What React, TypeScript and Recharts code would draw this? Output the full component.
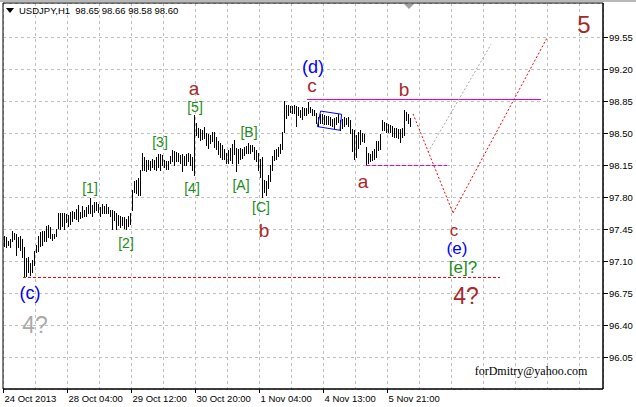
import React from "react";
import {
  ComposedChart,
  Bar,
  XAxis,
  YAxis,
  CartesianGrid,
  ReferenceLine,
  ReferenceDot,
  ReferenceArea,
} from "recharts";

// ---------- data (USDJPY, H1 bars: high / low) ----------
const highs = [
  97.37, 97.36, 97.32, 97.34, 97.43, 97.41, 97.39, 97.36, 97.37, 97.34,
  97.25, 97.13, 97.14, 97.08, 97.11, 97.21, 97.27, 97.37, 97.42, 97.43,
  97.43, 97.48, 97.49, 97.47, 97.4, 97.4, 97.45, 97.62, 97.63, 97.62,
  97.63, 97.61, 97.6, 97.64, 97.65, 97.64, 97.67, 97.71, 97.64, 97.7,
  97.66, 97.69, 97.71, 97.79, 97.71, 97.74, 97.74, 97.72, 97.69, 97.72,
  97.7, 97.72, 97.69, 97.66, 97.66, 97.65, 97.62, 97.6, 97.59, 97.58,
  97.58, 97.56, 97.59, 97.63, 97.88, 97.97, 97.99, 98.01, 98.1, 98.28,
  98.24, 98.2, 98.21, 98.19, 98.22, 98.21, 98.24, 98.27, 98.27, 98.26,
  98.21, 98.19, 98.19, 98.25, 98.31, 98.3, 98.29, 98.28, 98.26, 98.27,
  98.25, 98.27, 98.28, 98.27, 98.24, 98.7, 98.61, 98.55, 98.54, 98.53,
  98.57, 98.5, 98.49, 98.48, 98.51, 98.51, 98.46, 98.41, 98.39, 98.37,
  98.33, 98.28, 98.31, 98.34, 98.38, 98.42, 98.34, 98.33, 98.34, 98.33,
  98.35, 98.36, 98.39, 98.37, 98.37, 98.35, 98.31, 98.28, 98.22, 98.24,
  97.99, 97.98, 98.04, 98.15, 98.25, 98.31, 98.33, 98.35, 98.38, 98.51,
  98.85, 98.81, 98.81, 98.8, 98.79, 98.81, 98.79, 98.78, 98.75, 98.78,
  98.77, 98.77, 98.84, 98.78, 98.76, 98.75, 98.72, 98.67, 98.71, 98.71,
  98.7, 98.69, 98.69, 98.67, 98.65, 98.66, 98.68, 98.71, 98.64, 98.65,
  98.67, 98.66, 98.67, 98.64, 98.54, 98.53, 98.48, 98.51, 98.53, 98.5,
  98.49, 98.35, 98.28, 98.27, 98.3, 98.33, 98.41, 98.41, 98.49, 98.64,
  98.62, 98.61, 98.6, 98.59, 98.58, 98.55, 98.56, 98.54, 98.54, 98.56,
  98.75, 98.73, 98.71, 98.66,
];
const lows = [
  97.26, 97.25, 97.28, 97.25, 97.32, 97.34, 97.17, 97.25, 97.22, 97.14,
  96.92, 96.94, 96.98, 96.95, 96.98, 97.06, 97.2, 97.21, 97.26, 97.28,
  97.32, 97.32, 97.36, 97.35, 97.33, 97.35, 97.37, 97.46, 97.45, 97.48,
  97.45, 97.53, 97.48, 97.51, 97.54, 97.57, 97.56, 97.54, 97.57, 97.58,
  97.59, 97.59, 97.62, 97.62, 97.59, 97.64, 97.66, 97.64, 97.59, 97.62,
  97.63, 97.62, 97.63, 97.59, 97.45, 97.55, 97.45, 97.49, 97.47, 97.49,
  97.46, 97.45, 97.48, 97.5, 97.66, 97.86, 97.84, 97.82, 97.82, 98.1,
  98.09, 98.08, 98.11, 98.1, 98.13, 98.11, 98.1, 98.13, 98.1, 98.15,
  98.13, 98.11, 98.11, 98.17, 98.19, 98.15, 98.19, 98.19, 98.17, 98.08,
  98.15, 98.15, 98.19, 98.15, 98.1, 98.04, 98.48, 98.46, 98.42, 98.43,
  98.44, 98.37, 98.34, 98.39, 98.41, 98.35, 98.33, 98.27, 98.24, 98.22,
  98.22, 98.17, 98.17, 98.21, 98.17, 98.27, 98.08, 98.17, 98.22, 98.23,
  98.26, 98.28, 98.28, 98.28, 98.3, 98.22, 98.19, 98.1, 98.02, 97.8,
  97.86, 97.82, 97.9, 97.97, 98.1, 98.21, 98.22, 98.25, 98.28, 98.33,
  98.51, 98.66, 98.7, 98.73, 98.72, 98.72, 98.58, 98.7, 98.67, 98.65,
  98.7, 98.7, 98.72, 98.73, 98.7, 98.7, 98.61, 98.58, 98.61, 98.61,
  98.6, 98.6, 98.6, 98.59, 98.58, 98.56, 98.6, 98.62, 98.53, 98.55,
  98.58, 98.6, 98.58, 98.5, 98.3, 98.22, 98.24, 98.34, 98.38, 98.41,
  98.4, 98.15, 98.17, 98.19, 98.21, 98.22, 98.24, 98.31, 98.33, 98.53,
  98.53, 98.51, 98.51, 98.51, 98.47, 98.46, 98.46, 98.44, 98.4, 98.46,
  98.48, 98.64, 98.61, 98.58,
];

// time axis: bar index of each grid line, and the labelled ones
const gridIdx = [-1, 15, 31, 47, 63, 79, 95, 111, 127, 143, 159, 175, 191, 207, 223, 239, 255, 271, 287];
const timeTickIdx = [-1, 31, 63, 95, 127, 159, 191];
const timeTickLabels = ["24 Oct 2013", "28 Oct 04:00", "29 Oct 12:00", "30 Oct 20:00", "1 Nov 04:00", "4 Nov 13:00", "5 Nov 21:00"];
const priceTicks = [96.05, 96.4, 96.75, 97.1, 97.45, 97.8, 98.15, 98.5, 98.85, 99.2, 99.55];

const titleText = "USDJPY,H1  98.65 98.66 98.58 98.60";

// wave labels: text, bar index, price (baseline)
const labelTexts = ["(c)", "4?", "[1]", "[2]", "[3]", "[4]", "[5]", "a", "[A]", "[B]", "[C]", "b", "(d)", "c", "b", "a", "5", "c", "(e)", "[e]?", "4?", "forDmitry@yahoo.com"];
const labelIdx = [12.5, 15, 42.5, 60.5, 77.5, 93.5, 95, 94.5, 118, 122, 128, 129.5, 154, 153.5, 199.5, 179, 289.5, 224.5, 226, 229, 230.5, 263];
const labelPrice = [96.68, 96.31, 97.84, 97.24, 98.35, 97.84, 98.73, 98.92, 97.88, 98.46, 97.64, 97.36, 99.16, 98.95, 98.9, 97.9, 99.59, 97.37, 97.175, 96.965, 96.63, 95.85];
const labelKind = ["blue", "grey", "green", "green", "green", "green", "green", "red", "green", "green", "green", "red", "blue", "red", "red", "red", "five", "redSmall", "blueE", "greenBig", "big", "email"];

// drawn lines: [bar index, price] vertices
const forecastPath = [[204, 98.71], [224, 97.625], [271, 99.54]];
const altPath = [[211.5, 98.29], [243, 99.47]];
const resistance = [[151, 98.87], [268, 98.87]];
const support = [[180.5, 98.15], [221, 98.15]];
const cLevel = [[9, 96.92], [247.5, 96.92]];
const channel = [[157.8, 98.74], [168.3, 98.705], [167.5, 98.53], [156.2, 98.57], [157.8, 98.74]];

// ---------- styles ----------
const SANS = "'Liberation Sans', Arial, sans-serif";
const LABEL_STYLE: Record<string, { fill: string; size: number; family: string }> = {
  red: { fill: "#a82828", size: 19, family: SANS },
  redSmall: { fill: "#a82828", size: 17, family: SANS },
  blue: { fill: "#0000ff", size: 18, family: SANS },
  blueE: { fill: "#0000ff", size: 17, family: SANS },
  green: { fill: "#1a8c1a", size: 14, family: SANS },
  greenBig: { fill: "#1a8c1a", size: 17, family: SANS },
  grey: { fill: "#aaaaaa", size: 23, family: SANS },
  big: { fill: "#a82828", size: 23, family: SANS },
  five: { fill: "#a82828", size: 24, family: SANS },
  email: { fill: "#000000", size: 12, family: "'Liberation Serif', 'Times New Roman', serif" },
};

const X_DOMAIN: [number, number] = [-1, 299];
const Y_DOMAIN: [number, number] = [95.7, 99.922];

const data = highs.map((h, i) => ({ i, range: [lows[i], h] }));

const BarShape = (props: any) => {
  const { x, y, width, height } = props;
  if (x == null || y == null) return null;
  const cx = Math.floor(x + width / 2) + 0.5;
  const top = Math.min(y, y + height);
  const bot = Math.max(y, y + height);
  return <line x1={cx} x2={cx} y1={Math.round(top)} y2={Math.round(bot) + 1} stroke="#000" strokeWidth={1} shapeRendering="crispEdges" />;
};

const XTick = (props: any) => {
  const { x, y, payload } = props;
  const k = timeTickIdx.indexOf(payload.value);
  if (k < 0) return null;
  const px = Math.floor(x) + 0.5;
  return (
    <g>
      <line x1={px} x2={px} y1={y} y2={y + 4} stroke="#000" shapeRendering="crispEdges" />
      <text x={px + 1} y={y + 13} fontSize={9.5} fontFamily={SANS} fill="#000">
        {timeTickLabels[k]}
      </text>
    </g>
  );
};

const YTick = (props: any) => {
  const { x, y, payload } = props;
  const py = Math.floor(y) + 0.5;
  return (
    <g>
      <line x1={x} x2={x + 5} y1={py} y2={py} stroke="#000" shapeRendering="crispEdges" />
      <text x={x + 6} y={py + 3.5} fontSize={9.5} fontFamily={SANS} fill="#000">
        {payload.value.toFixed(2)}
      </text>
    </g>
  );
};

function segs(points: number[][]) {
  const out: { x1: number; y1: number; x2: number; y2: number }[] = [];
  for (let k = 0; k + 1 < points.length; k++) {
    out.push({ x1: points[k][0], y1: points[k][1], x2: points[k + 1][0], y2: points[k + 1][1] });
  }
  return out;
}

const LINE_SETS = [
  { pts: cLevel, stroke: "#ff0000", dash: "3 2", crisp: true },
  { pts: resistance, stroke: "#e000e0", dash: undefined, crisp: true },
  { pts: support, stroke: "#e000e0", dash: "4 2", crisp: true },
  { pts: channel, stroke: "#0000ff", dash: undefined, crisp: false },
  { pts: altPath, stroke: "#a8a8a8", dash: "2 2", crisp: false },
  { pts: forecastPath, stroke: "#ff0000", dash: "2 2", crisp: false },
];

export default function App() {
  return (
    <div style={{ position: "absolute", left: 0, top: 0, width: 636, height: 407, background: "#fff", overflow: "hidden" }}>
      <div style={{ position: "absolute", left: 0, top: 0, width: 636, height: 2, background: "#b8b8b8" }} />
      <ComposedChart width={636} height={407} data={data} margin={{ top: 3, right: 0, bottom: 0, left: 3 }}>
        <CartesianGrid stroke="#c0c0c0" strokeDasharray="3 3" shapeRendering="crispEdges" />
        <XAxis
          type="number"
          dataKey="i"
          domain={X_DOMAIN}
          ticks={gridIdx}
          interval={0}
          allowDataOverflow
          height={18}
          tickSize={0}
          tickMargin={0}
          tick={<XTick />}
          axisLine={{ stroke: "#000" }}
        />
        <YAxis
          orientation="right"
          type="number"
          domain={Y_DOMAIN}
          ticks={priceTicks}
          interval={0}
          allowDataOverflow
          width={33}
          tickSize={0}
          tickMargin={0}
          tick={<YTick />}
          axisLine={{ stroke: "#000" }}
        />
        <ReferenceArea x1={X_DOMAIN[0]} x2={X_DOMAIN[1]} y1={Y_DOMAIN[0]} y2={Y_DOMAIN[1]} fill="none" fillOpacity={0} stroke="#000" strokeOpacity={1} ifOverflow="visible" />
        <Bar dataKey="range" barSize={1} isAnimationActive={false} shape={<BarShape />} />
        {LINE_SETS.map((set, si) =>
          segs(set.pts).map((s, k) => (
            <ReferenceLine
              key={`l${si}-${k}`}
              segment={[{ x: s.x1, y: s.y1 }, { x: s.x2, y: s.y2 }]}
              stroke={set.stroke}
              strokeWidth={1}
              strokeDasharray={set.dash}
              shapeRendering={set.crisp ? "crispEdges" : undefined}
              ifOverflow="visible"
            />
          ))
        )}
        {labelTexts.map((t, k) => {
          const st = LABEL_STYLE[labelKind[k]];
          return (
            <ReferenceDot
              key={`t${k}`}
              x={labelIdx[k]}
              y={labelPrice[k]}
              r={0}
              ifOverflow="visible"
              shape={(p: any) => (
                <text x={p.cx} y={p.cy} textAnchor="middle" fontSize={st.size} fontFamily={st.family} fill={st.fill}>
                  {t}
                </text>
              )}
            />
          );
        })}
        <ReferenceDot
          x={202}
          y={Y_DOMAIN[1]}
          r={0}
          ifOverflow="visible"
          shape={(p: any) => <polygon points={`${p.cx - 5},${p.cy + 1} ${p.cx + 5},${p.cy + 1} ${p.cx},${p.cy + 6}`} fill="#a0a0a0" />}
        />
      </ComposedChart>
      <div style={{ position: "absolute", left: 6, top: 5, display: "flex", alignItems: "center", fontFamily: SANS, fontSize: 9.5, color: "#000", whiteSpace: "pre" }}>
        <svg width={9} height={6} style={{ marginRight: 4 }}>
          <polygon points="0,0 8,0 4,5" fill="#000" />
        </svg>
        <span>{titleText}</span>
      </div>
    </div>
  );
}
